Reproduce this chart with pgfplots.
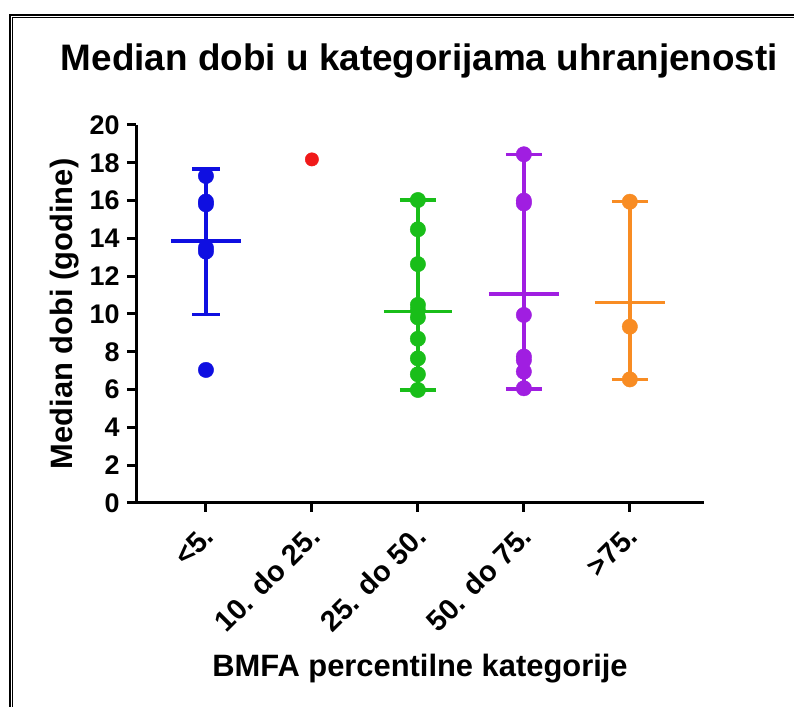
\documentclass[border=0pt]{standalone}
\usepackage{fontspec}
\setmainfont{Liberation Sans}
\usepackage{pgfplots}
\pgfplotsset{compat=1.18}

\definecolor{cblue}{RGB}{15,15,225}
\definecolor{cred}{RGB}{240,25,25}
\definecolor{cgreen}{RGB}{25,190,25}
\definecolor{cpurple}{RGB}{160,30,225}
\definecolor{corange}{RGB}{248,140,35}

\pgfplotsset{
  bar/.style={line width=3.5bp, line cap=butt},
  dots/.style={only marks, mark=*, mark size=7.7bp, mark options={draw=none}},
}

\begin{document}
\begin{tikzpicture}[x=1bp,y=1bp]
\useasboundingbox (0,0) rectangle (794,707);
\fill[white] (0,0) rectangle (794,707);
% double frame, only left and top sides are inside the picture
\draw[line width=2bp] (9.7,-5) -- (9.7,692.3) -- (800,692.3);
\draw[line width=1.3bp] (12.5,-5) -- (12.5,689.8) -- (800,689.8);

\begin{axis}[
  at={(136bp,204bp)}, anchor=south west,
  scale only axis, width=568bp, height=378bp,
  xmin=-0.66, xmax=4.7, ymin=0, ymax=20,
  clip=false,
  axis x line=bottom, axis y line=left,
  axis line style={line width=3bp, -},
  tick align=outside, major tick length=9bp,
  tick style={line width=3bp, black},
  ytick={0,2,...,20},
  xtick={0,1,2,3,4},
  xticklabels={<5., 10. do 25., 25. do 50., 50. do 75., >75.},
  /pgf/number format/assume math mode=true,
  tick label style={font=\bfseries\fontsize{27}{27}\selectfont},
  yticklabel style={xshift=-4bp},
  xticklabel style={xshift=5bp, yshift=-17bp, rotate=45, anchor=east,
    font=\bfseries\fontsize{29}{29}\selectfont},
  title={Median dobi u kategorijama uhranjenosti},
  title style={at={(axis description cs:0.499,1.128)}, anchor=base,
    font=\bfseries\fontsize{37}{37}\selectfont},
  xlabel={BMFA percentilne kategorije},
  xlabel style={at={(axis description cs:0.5,-0.46)}, anchor=base,
    font=\bfseries\fontsize{31}{31}\selectfont},
  ylabel={Median dobi (godine)},
  ylabel style={at={(axis description cs:-0.111,0.5)}, anchor=base,
    font=\bfseries\fontsize{31}{31}\selectfont},
]

% <5.
\addplot[bar, cblue] coordinates {(0,9.98) (0,17.67)};
\addplot[bar, cblue] coordinates {(-0.13,17.67) (0.13,17.67)};
\addplot[bar, cblue] coordinates {(-0.13,9.98) (0.13,9.98)};
\addplot[bar, cblue] coordinates {(-0.33,13.86) (0.33,13.86)};
\addplot[dots, cblue] coordinates {(0,17.3) (0,15.95) (0,15.8) (0,13.5) (0,13.3) (0,7.04)};

% 10. do 25.
\addplot[dots, cred, mark size=6.7bp] coordinates {(1,18.18)};

% 25. do 50.
\addplot[bar, cgreen] coordinates {(2,5.98) (2,16.03)};
\addplot[bar, cgreen] coordinates {(1.83,16.03) (2.17,16.03)};
\addplot[bar, cgreen] coordinates {(1.83,5.98) (2.17,5.98)};
\addplot[bar, cgreen] coordinates {(1.68,10.12) (2.32,10.12)};
\addplot[dots, cgreen] coordinates {(2,16.03) (2,14.48) (2,12.64) (2,10.48) (2,10.2) (2,9.82) (2,8.69) (2,7.65) (2,6.81) (2,5.98)};

% 50. do 75.
\addplot[bar, cpurple] coordinates {(3,6.02) (3,18.45)};
\addplot[bar, cpurple] coordinates {(2.83,18.45) (3.17,18.45)};
\addplot[bar, cpurple] coordinates {(2.83,6.02) (3.17,6.02)};
\addplot[bar, cpurple] coordinates {(2.67,11.06) (3.33,11.06)};
\addplot[dots, cpurple] coordinates {(3,18.45) (3,16.0) (3,15.85) (3,9.95) (3,7.75) (3,7.55) (3,6.95) (3,6.07)};

% >75.
\addplot[bar, corange] coordinates {(4,6.54) (4,15.94)};
\addplot[bar, corange] coordinates {(3.83,15.94) (4.17,15.94)};
\addplot[bar, corange] coordinates {(3.83,6.54) (4.17,6.54)};
\addplot[bar, corange] coordinates {(3.67,10.6) (4.33,10.6)};
\addplot[dots, corange] coordinates {(4,15.94) (4,9.33) (4,6.54)};

\end{axis}
\end{tikzpicture}
\end{document}
